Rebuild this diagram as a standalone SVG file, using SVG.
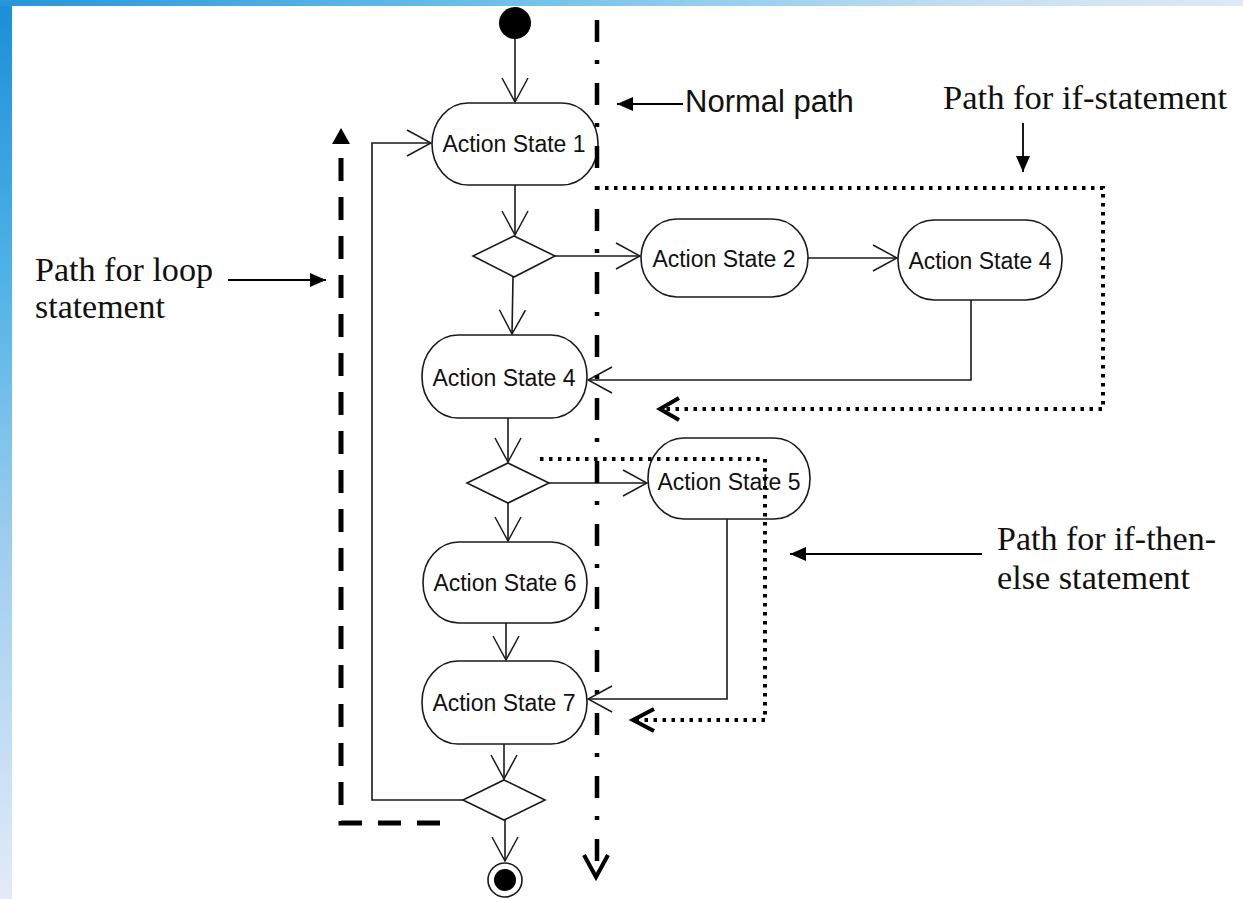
<svg xmlns="http://www.w3.org/2000/svg" width="1243" height="899" viewBox="0 0 1243 899">
  <defs>
    <linearGradient id="sideBand" x1="0" y1="0" x2="0" y2="1">
      <stop offset="0" stop-color="#1c8ed7"/>
      <stop offset="0.3" stop-color="#4db2e6"/>
      <stop offset="0.6" stop-color="#9dcdee"/>
      <stop offset="1" stop-color="#e3ebf8"/>
    </linearGradient>
    <linearGradient id="topBand" x1="0" y1="0" x2="1" y2="0">
      <stop offset="0" stop-color="#2596da"/>
      <stop offset="0.4" stop-color="#6cc0ea"/>
      <stop offset="0.8" stop-color="#c8e0f3"/>
      <stop offset="1" stop-color="#dde9f6"/>
    </linearGradient>
    <!-- open UML flow arrowhead -->
    <marker id="open" markerUnits="userSpaceOnUse" viewBox="0 0 26 28" markerWidth="26" markerHeight="28" refX="25" refY="14" orient="auto">
      <path d="M1 1 L25 14 L1 27" fill="none" stroke="#1a1a1a" stroke-width="1.5"/>
    </marker>
    <!-- solid pointer for callout labels -->
    <marker id="tri" markerUnits="userSpaceOnUse" viewBox="0 0 16 14" markerWidth="16" markerHeight="14" refX="16" refY="7" orient="auto">
      <path d="M0 0 L16 7 L0 14 Z" fill="#000"/>
    </marker>
    <style>
      .state rect { fill: #fff; stroke: #1a1a1a; stroke-width: 1.6; }
      .state text { font-family: "Liberation Sans", Arial, sans-serif; font-size: 23px; fill: #111; text-anchor: middle; }
      .decision { fill: #fff; stroke: #1a1a1a; stroke-width: 1.6; }
      .flow { fill: none; stroke: #1a1a1a; stroke-width: 1.6; marker-end: url(#open); }
      .pointer { fill: none; stroke: #000; stroke-width: 1.8; marker-end: url(#tri); }
      .dotted { fill: none; stroke: #000; stroke-width: 4; stroke-dasharray: 3.5 5.5; }
      .dashed { fill: none; stroke: #000; stroke-width: 5; stroke-dasharray: 23 16; }
      .dashdot { fill: none; stroke: #000; stroke-width: 4.5; stroke-dasharray: 22 18 4 19; }
      .head { fill: none; stroke: #000; stroke-width: 4; stroke-linejoin: miter; }
      .serif { font-family: "Liberation Serif", "Times New Roman", serif; font-size: 33px; fill: #111; }
      .sans { font-family: "Liberation Sans", Arial, sans-serif; font-size: 31px; fill: #111; }
    </style>
  </defs>

  <!-- page and slide border bands -->
  <rect x="0" y="0" width="1243" height="899" fill="#fff"/>
  <rect x="0" y="0" width="12" height="899" fill="url(#sideBand)"/>
  <rect x="0" y="0" width="1243" height="6" fill="url(#topBand)"/>

  <!-- control-flow transitions -->
  <g id="connectors">
    <path class="flow" d="M515 39 L515 102"/>
    <path class="flow" d="M515 185 L515 235"/>
    <path class="flow" d="M555 256 L640 256"/>
    <path class="flow" d="M808 258 L897 258"/>
    <path class="flow" d="M971 300 L971 380 L588 380"/>
    <path class="flow" d="M513 277 L512 334"/>
    <path class="flow" d="M508 418 L508 462"/>
    <path class="flow" d="M549 483 L647 483"/>
    <path class="flow" d="M508 503 L508 541"/>
    <path class="flow" d="M727 519 L727 699 L588 699"/>
    <path class="flow" d="M506 623 L506 660"/>
    <path class="flow" d="M504 744 L504 779"/>
    <path class="flow" d="M505 820 L505 861"/>
    <path class="flow" d="M463 800 L372 800 L372 143 L431 143"/>
  </g>

  <g id="start">
    <circle cx="515" cy="23" r="16" fill="#000"/>
  </g>

  <g id="as1" class="state">
    <rect x="432" y="103" width="166" height="82" rx="36" ry="41"/>
    <text x="514" y="152">Action State 1</text>
  </g>

  <g id="decision1">
    <polygon class="decision" points="514,236 555,256 514,277 473,256"/>
  </g>

  <g id="as2" class="state">
    <rect x="641" y="219" width="167" height="78" rx="36" ry="39"/>
    <text x="724" y="267">Action State 2</text>
  </g>

  <g id="as4-branch" class="state">
    <rect x="898" y="220" width="164" height="80" rx="36" ry="40"/>
    <text x="980" y="269">Action State 4</text>
  </g>

  <g id="as4" class="state">
    <rect x="422" y="335" width="165" height="83" rx="36" ry="41"/>
    <text x="504" y="386">Action State 4</text>
  </g>

  <g id="decision2">
    <polygon class="decision" points="508,463 549,483 508,503 467,483"/>
  </g>

  <g id="as5" class="state">
    <rect x="648" y="438" width="162" height="81" rx="36" ry="40"/>
    <text x="729" y="490">Action State 5</text>
  </g>

  <g id="as6" class="state">
    <rect x="423" y="542" width="164" height="81" rx="36" ry="40"/>
    <text x="505" y="591">Action State 6</text>
  </g>

  <g id="as7" class="state">
    <rect x="422" y="661" width="165" height="83" rx="36" ry="41"/>
    <text x="504" y="711">Action State 7</text>
  </g>

  <g id="decision3">
    <polygon class="decision" points="504,780 545,800 504,820 463,800"/>
  </g>

  <g id="final">
    <circle cx="505" cy="880" r="17" fill="#fff" stroke="#1a1a1a" stroke-width="1.6"/>
    <circle cx="505" cy="880" r="11" fill="#000"/>
  </g>

  <!-- path annotations drawn over the activity graph -->
  <g id="normal-path">
    <path class="dashdot" d="M597 20 L597 874"/>
    <path class="head" d="M584 855 L596 877 L608 855"/>
    <path class="pointer" d="M683 104 L617 104"/>
    <text class="sans" x="685" y="112">Normal path</text>
  </g>

  <g id="if-path">
    <path class="dotted" d="M596 188 L1103 188 L1103 409 L664 409"/>
    <path class="head" d="M679 398 L660 409 L679 420"/>
    <path class="pointer" d="M1023 123 L1023 172"/>
    <text class="serif" x="943" y="109" textLength="284" lengthAdjust="spacingAndGlyphs">Path for if-statement</text>
  </g>

  <g id="if-else-path">
    <path class="dotted" d="M540 459 L765 459 L765 720 L637 720"/>
    <path class="head" d="M654 709 L633 720 L654 731"/>
    <path class="pointer" d="M982 554 L790 554"/>
    <text class="serif" x="997" y="550" textLength="219" lengthAdjust="spacingAndGlyphs">Path for if-then-</text>
    <text class="serif" x="997" y="589" textLength="193" lengthAdjust="spacingAndGlyphs">else statement</text>
  </g>

  <g id="loop-path">
    <path class="dashed" d="M341 158 L341 823 L443 823"/>
    <polygon points="341,128 332,144 350,144" fill="#000"/>
    <path class="pointer" d="M228 280 L326 280"/>
    <text class="serif" x="35" y="281" textLength="178" lengthAdjust="spacingAndGlyphs">Path for loop</text>
    <text class="serif" x="35" y="318" textLength="130" lengthAdjust="spacingAndGlyphs">statement</text>
  </g>
</svg>
